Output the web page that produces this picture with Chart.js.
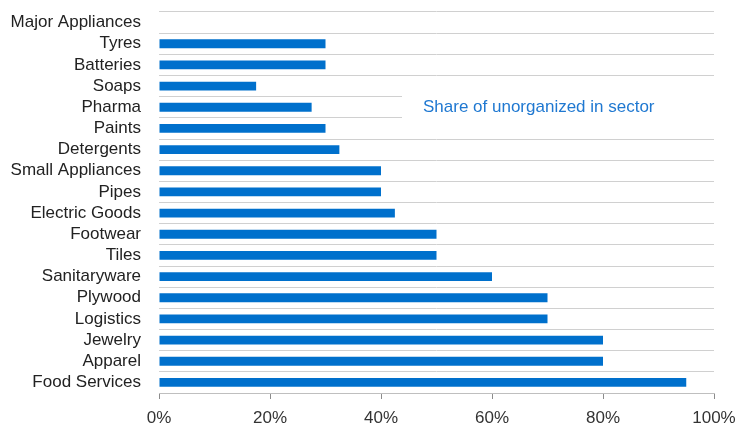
<!DOCTYPE html>
<html>
<head>
<meta charset="utf-8">
<script src="https://cdn.jsdelivr.net/npm/chart.js@4/dist/chart.umd.min.js"></script>
<style>
html,body{margin:0;padding:0;background:#fff;}
#wrap{width:738px;height:424px;}
</style>
</head>
<body>
<div id="wrap"><canvas id="c" width="738" height="424"></canvas></div>
<script>
const categories = ["Major Appliances","Tyres","Batteries","Soaps","Pharma","Paints","Detergents","Small Appliances","Pipes","Electric Goods","Footwear","Tiles","Sanitaryware","Plywood","Logistics","Jewelry","Apparel","Food Services"];
const shareUnorganized = [null,30,30,17.5,27.5,30,32.5,40,40,42.5,50,50,60,70,70,80,80,95];
const seriesName = "Share of unorganized in sector";
const xTicks = [0,20,40,60,80,100];

const FONT = "'Liberation Sans', Arial, sans-serif";

const legendBox = {
  id: 'legendBox',
  afterDraw(chart) {
    const ctx = chart.ctx;
    const y = chart.scales.y;
    const yc = y.getPixelForValue(4);
    ctx.save();
    ctx.fillStyle = '#ffffff';
    ctx.fillRect(402, yc - 12, 336, 24);
    ctx.fillStyle = '#1f78d1';
    ctx.font = "17px " + FONT;
    ctx.textBaseline = 'middle';
    ctx.textAlign = 'left';
    ctx.fillText(seriesName, 423, yc);
    ctx.restore();
  }
};

new Chart(document.getElementById('c'), {
  type: 'bar',
  data: {
    labels: categories,
    datasets: [{
      label: seriesName,
      data: shareUnorganized,
      backgroundColor: '#0070cc',
      borderWidth: 0,
      barPercentage: 0.42,
      categoryPercentage: 1.0
    }]
  },
  options: {
    indexAxis: 'y',
    responsive: false,
    animation: false,
    layout: { padding: { top: 12, right: 24, bottom: 0, left: 0 } },
    plugins: { legend: { display: false }, tooltip: { enabled: false } },
    scales: {
      x: {
        min: 0, max: 100,
        afterBuildTicks(scale) { scale.ticks = xTicks.map(v => ({ value: v })); },
        afterFit(scale) { scale.height = 31; scale.paddingLeft = 0; scale.paddingRight = 0; },
        grid: { drawOnChartArea: false, drawTicks: true, tickLength: 6, color: '#8c8c8c' },
        border: { display: true, color: '#bfbfbf', width: 1 },
        ticks: {
          padding: 9,
          color: '#333333',
          font: { family: FONT, size: 17 },
          callback: v => v + '%',
          maxRotation: 0
        }
      },
      y: {
        afterFit(scale) { scale.width = 159; scale.paddingTop = 0; scale.paddingBottom = 0; },
        grid: { display: true, offset: true, drawTicks: false, color: '#d0d0d0', lineWidth: 1 },
        border: { display: false },
        ticks: {
          padding: 18,
          color: '#222222',
          font: { family: FONT, size: 17 },
          autoSkip: false
        }
      }
    }
  },
  plugins: [legendBox]
});
</script>
</body>
</html>
